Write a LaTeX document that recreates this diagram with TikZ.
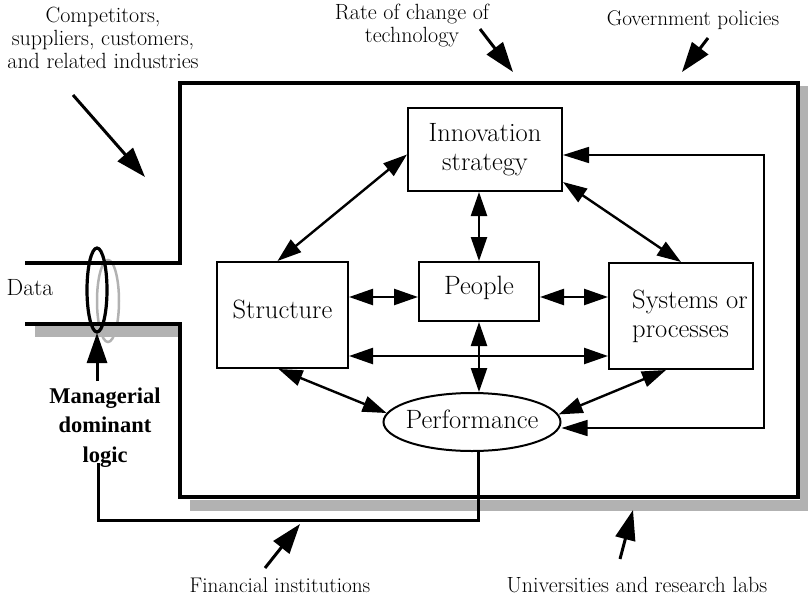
\documentclass[tikz,border=0pt]{standalone}
\usepackage{fontspec}
\newfontfamily\timesfont{Liberation Serif}
\usetikzlibrary{arrows.meta,shapes.geometric}

\begin{document}
\begin{tikzpicture}[x=1pt,y=-1pt,
  block/.style={draw,line width=2pt,inner sep=0pt,align=center,
    font=\fontsize{26.5}{29}\selectfont},
  twoway/.style={line width=2.4pt,
    {Triangle[length=24pt,width=16pt]}-{Triangle[length=24pt,width=16pt]}},
  fbline/.style={line width=1.6pt,
    {Triangle[length=26pt,width=16pt]}-{Triangle[length=26pt,width=16pt]}},
  influence/.style={line width=3pt,-{Triangle[length=30pt,width=20pt]}},
  outtext/.style={font=\fontsize{22}{23}\selectfont,align=center,inner sep=0pt},
  shadowfill/.style={fill=black!30}
]
\useasboundingbox (0,0) rectangle (808,597);

% drop shadows of the firm boundary and the data channel
\fill[shadowfill] (35,326) rectangle (182,337);
\fill[shadowfill] (190,500) rectangle (808,511);
\fill[shadowfill] (800,86) rectangle (808,511);
\draw[black!30,line width=2.5pt] (108,301) ellipse [x radius=11pt, y radius=41pt];

% firm boundary with the data inlet
\draw[line width=4.5pt,line join=miter]
  (25,263) -- (180,263) -- (180,83) -- (798,83) -- (798,497)
  -- (180,497) -- (180,324) -- (25,324);

% filter on the data inlet
\draw[line width=3.2pt] (97,290) ellipse [x radius=10pt, y radius=42pt];

% internal elements
\node[block,minimum width=154pt,minimum height=83pt] (innov) at (485,149.5) {Innovation\\strategy};
\node[block,text height=19pt,text depth=14pt,minimum width=120pt,minimum height=59pt] (people) at (479,291.5) {People};
\node[block,text height=19pt,text depth=12pt,minimum width=131pt,minimum height=106pt] (struct) at (282.5,315) {Structure};
\node[block,align=left,minimum width=144pt,minimum height=106pt] (sys) at (681,316)
  {\hspace*{18pt}Systems or\\\hspace*{18pt}processes};
\node[block,ellipse,text height=19pt,text depth=7pt,inner xsep=-4pt,minimum width=177pt,minimum height=58pt] (perf) at (472,422) {Performance};

% helper rows and feedback corners
\coordinate (rowA) at (0,297);
\coordinate (rowB) at (0,356);
\coordinate (fbtop) at (764,155);
\coordinate (fbbot) at (764,428);

% two-way links between elements
\draw[twoway] ([yshift=-5pt]innov.west) -- ([xshift=-5pt]struct.north);
\draw[twoway] (innov.south -| people.north) -- (people.north);
\draw[twoway] ([yshift=10pt]innov.south east) -- (sys.north);
\draw[twoway] (struct.east |- rowA) -- (people.west |- rowA);
\draw[twoway] (people.east |- rowA) -- (sys.west |- rowA);
\draw[twoway] (struct.east |- rowB) -- (sys.west |- rowB);
\draw[twoway] (people.south) -- (people.south |- perf.north);
\draw[twoway] ([xshift=-4pt]struct.south) -- (perf.174);
\draw[twoway] ([xshift=-15pt]sys.south) -- (perf.5);

% feedback loop on the right
\draw[fbline] (innov.east |- fbtop) -- (fbtop) -- (fbbot) -- (fbbot -| perf.east);

% performance feeds back to the managerial dominant logic
\coordinate (loopR) at (478,520);
\coordinate (loopL) at (98,520);
\coordinate (loopEnd) at (98,463);
\draw[line width=3pt] (perf.south -| loopR) -- (loopR) -- (loopL) -- (loopEnd);

% external labels
\node[outtext] (comp) at (103,37.5) {Competitors,\\suppliers, customers,\\and related industries};
\node[outtext] (rate) at (412,26) {Rate of change of\\technology};
\node[outtext,font=\fontsize{21.2}{23}\selectfont] (gov) at (693,19.7) {Government policies};
\node[outtext,font=\fontsize{23.5}{25}\selectfont] (data) at (30,287.5) {Data};
\node[outtext,font=\timesfont\bfseries\fontsize{22.5}{29.5}\selectfont] (mdl) at (105,427.5)
  {Managerial\\dominant\\logic};
\node[outtext,font=\fontsize{21.2}{23}\selectfont] (fin) at (280,585.5) {Financial institutions};
\node[outtext] (univ) at (637,585.5) {Universities and research labs};

% external influences
\coordinate (compTail) at (73,95);   \coordinate (compTip) at (145,177);
\coordinate (rateTail) at (480,29);  \coordinate (rateTip) at (513,72);
\coordinate (govTail) at (708,38);   \coordinate (govTip) at (682,72);
\coordinate (finTail) at (265,568);  \coordinate (finTip) at (300,524);
\coordinate (univTail) at (620,559); \coordinate (univTip) at (633,510);
\coordinate (mdlTail) at (97,381);   \coordinate (mdlTip) at (97,333);
\draw[influence] (compTail) -- (compTip);
\draw[influence] (rateTail) -- (rateTip);
\draw[influence] (govTail) -- (govTip);
\draw[influence] (finTail) -- (finTip);
\draw[influence] (univTail) -- (univTip);
\draw[influence] (mdlTail) -- (mdlTip);
\end{tikzpicture}
\end{document}
